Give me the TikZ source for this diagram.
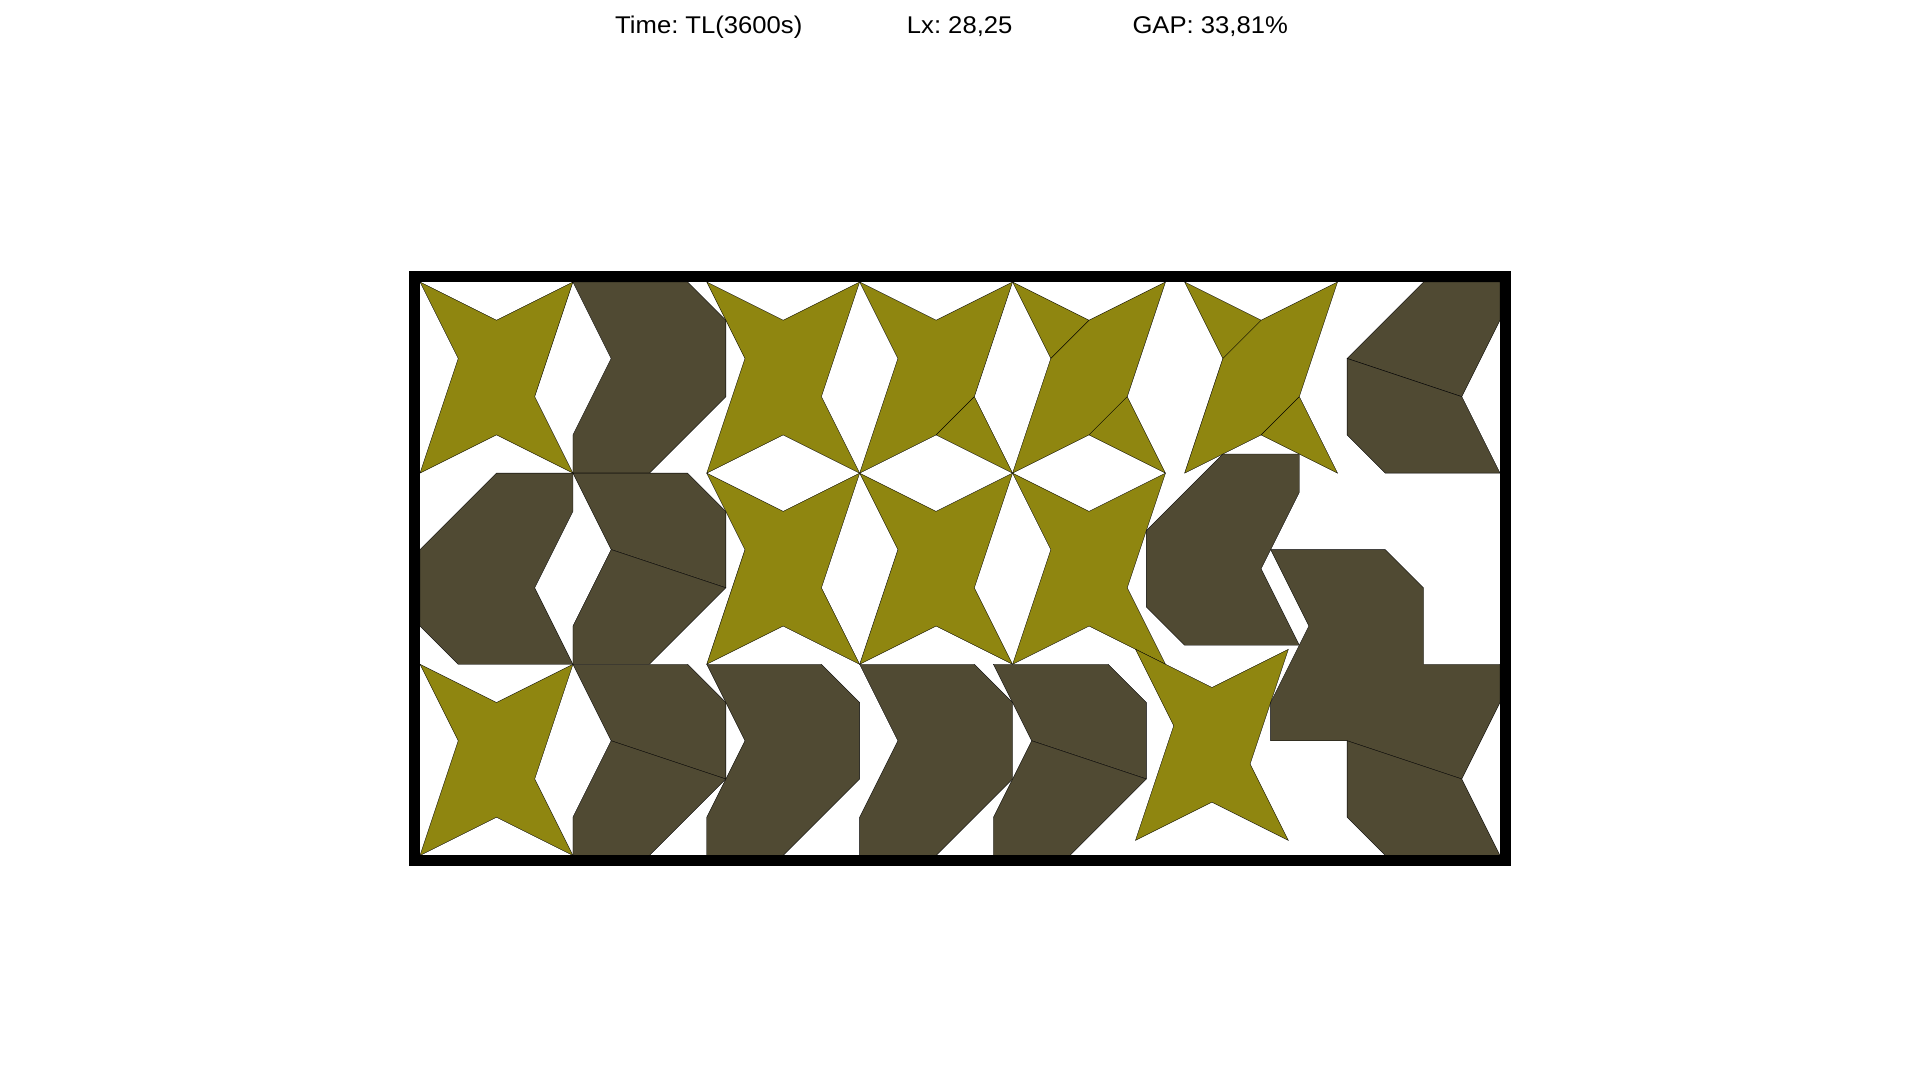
\documentclass[tikz,border=0pt]{standalone}
\usepackage{fontspec}
\setmainfont{Liberation Sans}
\frenchspacing
\definecolor{olv}{RGB}{143,134,16}
\definecolor{drk}{RGB}{80,74,51}
\tikzset{
  olivepc/.style={fill=olv, draw=black, line width=0.25pt, line join=miter},
  darkpc/.style={fill=drk, draw=black, line width=0.25pt, line join=miter},
  cutline/.style={draw=black, line width=0.3pt},
  frame/.style={draw=black, line width=0.2877cm, line join=miter},
  title/.style={anchor=base west, inner sep=0pt, font=\fontsize{18}{21}\selectfont\frenchspacing}
}
\newcommand\olstar[2]{\path[olivepc] (#1,#2) -- ++(2,1) -- ++(2,-1) -- ++(-1,3) -- ++(1,2) -- ++(-2,-1) -- ++(-2,1) -- ++(1,-3) -- cycle;}
\begin{document}
\begin{tikzpicture}[x=1cm,y=-1cm]
\useasboundingbox (-10.986,-7.376) rectangle (39.236,20.874);
% title
\node[title] (time) at (5.1,-6.505) {\scalebox{1.06}[1]{Time: TL(3600s)}};
\node[title] (lx) at (12.73,-6.505) {\scalebox{1.06}[1]{Lx: 28,25}};
\node[title] (gap) at (18.63,-6.505) {\scalebox{1.06}[1]{GAP: 33,81\%}};
% stars
\olstar{0}{0}
\olstar{7.5}{0}
\olstar{11.5}{0}
\olstar{15.5}{0}
\olstar{20}{0}
\olstar{7.5}{5}
\olstar{11.5}{5}
\olstar{15.5}{5}
\olstar{0}{10}
\olstar{18.714}{9.607}
\draw[cutline] (13.5,4) -- (14.5,3);
\draw[cutline] (16.5,2) -- (17.5,1);
\draw[cutline] (18.5,3) -- (17.5,4);
\draw[cutline] (21,2) -- (22,1);
\draw[cutline] (23,3) -- (22,4);
% dark pieces, column 2
\path[darkpc] (4,0) -- (7,0) -- (8,1) -- (8,3) -- (6,5) -- (4,5) -- (4,4) -- (5,2) -- cycle;
\path[darkpc] (4,5) -- (7,5) -- (8,6) -- (8,8) -- (5,7) -- cycle;
\path[darkpc] (5,7) -- (8,8) -- (6,10) -- (4,10) -- (4,9) -- cycle;
\path[darkpc] (4,10) -- (7,10) -- (8,11) -- (8,13) -- (5,12) -- cycle;
\path[darkpc] (5,12) -- (8,13) -- (6,15) -- (4,15) -- (4,14) -- cycle;
% column 1 middle
\path[darkpc] (2,5) -- (4,5) -- (4,6) -- (3,8) -- (4,10) -- (1,10) -- (0,9) -- (0,7) -- cycle;
% bottom row
\path[darkpc] (7.5,10) -- (10.5,10) -- (11.5,11) -- (11.5,13) -- (9.5,15) -- (7.5,15) -- (7.5,14) -- (8.5,12) -- cycle;
\path[darkpc] (11.5,10) -- (14.5,10) -- (15.5,11) -- (15.5,13) -- (13.5,15) -- (11.5,15) -- (11.5,14) -- (12.5,12) -- cycle;
\path[darkpc] (15,10) -- (18,10) -- (19,11) -- (19,13) -- (16,12) -- cycle;
\path[darkpc] (16,12) -- (19,13) -- (17,15) -- (15,15) -- (15,14) -- cycle;
% middle right
\path[darkpc] (21,4.5) -- (23,4.5) -- (23,5.5) -- (22,7.5) -- (23,9.5) -- (20,9.5) -- (19,8.5) -- (19,6.5) -- cycle;
\path[darkpc] (22.25,7) -- (25.25,7) -- (26.25,8) -- (26.25,10) -- (28.25,10) -- (28.25,11) -- (27.25,13) -- (24.25,12) -- (22.25,12) -- (22.25,11) -- (23.25,9) -- cycle;
\path[darkpc] (24.25,12) -- (27.25,13) -- (28.25,15) -- (25.25,15) -- (24.25,14) -- cycle;
% top right
\path[darkpc] (26.25,0) -- (28.25,0) -- (28.25,1) -- (27.25,3) -- (24.25,2) -- cycle;
\path[darkpc] (24.25,2) -- (27.25,3) -- (28.25,5) -- (25.25,5) -- (24.25,4) -- cycle;
% container
\draw[frame] (-0.144,-0.144) rectangle (28.394,15.144);
\end{tikzpicture}
\end{document}
